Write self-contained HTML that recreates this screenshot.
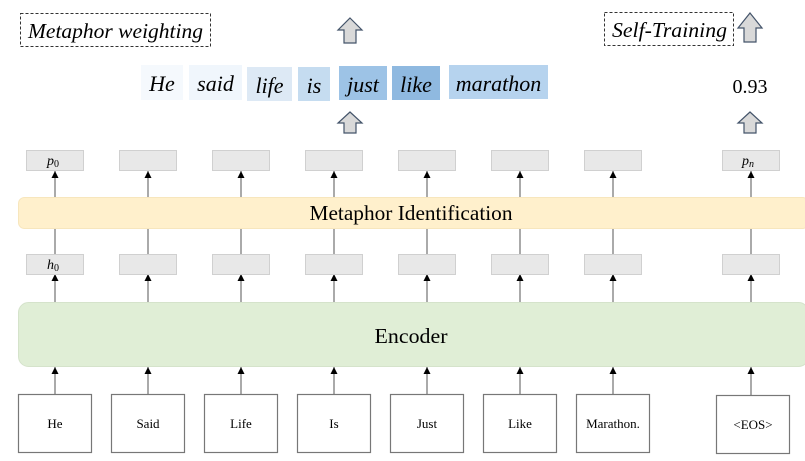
<!DOCTYPE html>
<html><head><meta charset="utf-8"><style>
html,body{margin:0;padding:0;background:#fff;}
svg{display:block;font-family:"Liberation Serif",serif;}
</style></head><body>
<svg width="805" height="461" viewBox="0 0 805 461" xmlns="http://www.w3.org/2000/svg">
<defs>
<marker id="ah" viewBox="0 0 10 10" refX="10" refY="5" markerUnits="userSpaceOnUse" markerWidth="8" markerHeight="7" orient="auto"><path d="M0,0 L10,5 L0,10 z" fill="#000"/></marker>
</defs>
<rect x="20.5" y="13.5" width="190" height="33" fill="none" stroke="#333" stroke-dasharray="3,2"/>
<text x="28" y="38" font-size="21" font-style="italic" textLength="175" lengthAdjust="spacingAndGlyphs">Metaphor weighting</text>
<rect x="604.5" y="12.5" width="129" height="33" fill="none" stroke="#333" stroke-dasharray="3,2"/>
<text x="612" y="37" font-size="21" font-style="italic" textLength="115" lengthAdjust="spacingAndGlyphs">Self-Training</text>
<g fill="#d9d9d9" stroke="#44546a" stroke-width="1.2">
<path d="M350,18 L362,30 L356,30 L356,43 L344,43 L344,30 L338,30 Z"/>
<path d="M750,13 L762,28 L756,28 L756,42 L744,42 L744,28 L738,28 Z"/>
<path d="M350,112 L362,123 L356,123 L356,133 L344,133 L344,123 L338,123 Z"/>
<path d="M750,112 L762,123 L756,123 L756,133 L744,133 L744,123 L738,123 Z"/>
</g>
<g font-size="22" font-style="italic" text-anchor="middle">
<rect x="141" y="65" width="42" height="35" fill="#f5f9fd"/><text x="162" y="91">He</text>
<rect x="189" y="65" width="53" height="35" fill="#f0f6fc"/><text x="215.5" y="91">said</text>
<rect x="247" y="67" width="45" height="34" fill="#dde9f5"/><text x="269.5" y="93">life</text>
<rect x="298" y="67" width="32" height="34" fill="#c5dcf0"/><text x="314" y="93">is</text>
<rect x="339" y="66" width="48" height="34" fill="#9dc3e6"/><text x="363" y="92">just</text>
<rect x="392" y="66" width="48" height="34" fill="#8fb9e0"/><text x="416" y="92">like</text>
<rect x="449" y="65" width="99" height="34" fill="#b6d3ee"/><text x="498.5" y="91">marathon</text>
</g>
<text x="750" y="93" font-size="20" text-anchor="middle">0.93</text>
<g stroke="#555" stroke-width="1" marker-end="url(#ah)">
<line x1="55" y1="254" x2="55" y2="171"/><line x1="148" y1="254" x2="148" y2="171"/>
<line x1="241" y1="254" x2="241" y2="171"/><line x1="334" y1="254" x2="334" y2="171"/>
<line x1="427" y1="254" x2="427" y2="171"/><line x1="520" y1="254" x2="520" y2="171"/>
<line x1="613" y1="254" x2="613" y2="171"/><line x1="751" y1="254" x2="751" y2="171"/>
<line x1="55" y1="302" x2="55" y2="274"/><line x1="148" y1="302" x2="148" y2="274"/>
<line x1="241" y1="302" x2="241" y2="274"/><line x1="334" y1="302" x2="334" y2="274"/>
<line x1="427" y1="302" x2="427" y2="274"/><line x1="520" y1="302" x2="520" y2="274"/>
<line x1="613" y1="302" x2="613" y2="274"/><line x1="751" y1="302" x2="751" y2="274"/>
<line x1="55" y1="394" x2="55" y2="367"/><line x1="148" y1="394" x2="148" y2="367"/>
<line x1="241" y1="394" x2="241" y2="367"/><line x1="334" y1="394" x2="334" y2="367"/>
<line x1="427" y1="394" x2="427" y2="367"/><line x1="520" y1="394" x2="520" y2="367"/>
<line x1="613" y1="394" x2="613" y2="367"/><line x1="751" y1="395" x2="751" y2="367"/>
</g>
<rect x="18.5" y="197.5" width="790" height="31" rx="6" fill="#fff0cc" stroke="#f7e6bd"/>
<text x="411" y="220" font-size="21" text-anchor="middle" textLength="203" lengthAdjust="spacingAndGlyphs">Metaphor Identification</text>
<rect x="18.5" y="302.5" width="790" height="64" rx="10" fill="#e0eed6" stroke="#d5e3cb"/>
<text x="411" y="343" font-size="21" text-anchor="middle" textLength="73" lengthAdjust="spacingAndGlyphs">Encoder</text>
<g fill="#e8e8e8" stroke="#d0d0d0">
<rect x="26.5" y="150.5" width="57" height="20"/><rect x="119.5" y="150.5" width="57" height="20"/>
<rect x="212.5" y="150.5" width="57" height="20"/><rect x="305.5" y="150.5" width="57" height="20"/>
<rect x="398.5" y="150.5" width="57" height="20"/><rect x="491.5" y="150.5" width="57" height="20"/>
<rect x="584.5" y="150.5" width="57" height="20"/><rect x="722.5" y="150.5" width="57" height="20"/>
<rect x="26.5" y="254.5" width="57" height="20"/><rect x="119.5" y="254.5" width="57" height="20"/>
<rect x="212.5" y="254.5" width="57" height="20"/><rect x="305.5" y="254.5" width="57" height="20"/>
<rect x="398.5" y="254.5" width="57" height="20"/><rect x="491.5" y="254.5" width="57" height="20"/>
<rect x="584.5" y="254.5" width="57" height="20"/><rect x="722.5" y="254.5" width="57" height="20"/>
</g>
<g font-size="14" font-style="italic">
<text x="47" y="165">p<tspan font-size="10" font-style="normal" dy="2">0</tspan></text>
<text x="742" y="165">p<tspan font-size="10" dy="2">n</tspan></text>
<text x="47" y="269">h<tspan font-size="10" font-style="normal" dy="2">0</tspan></text>
</g>
<g fill="#fff" stroke="#777" stroke-width="1.2">
<rect x="18.5" y="394.5" width="73" height="58"/><rect x="111.5" y="394.5" width="73" height="58"/>
<rect x="204.5" y="394.5" width="73" height="58"/><rect x="297.5" y="394.5" width="73" height="58"/>
<rect x="390.5" y="394.5" width="73" height="58"/><rect x="483.5" y="394.5" width="73" height="58"/>
<rect x="576.5" y="394.5" width="73" height="58"/><rect x="716.5" y="395.5" width="73" height="58"/>
</g>
<g font-size="13" text-anchor="middle">
<text x="55" y="428">He</text><text x="148" y="428">Said</text><text x="241" y="428">Life</text>
<text x="334" y="428">Is</text><text x="427" y="428">Just</text><text x="520" y="428">Like</text>
<text x="613" y="428">Marathon.</text><text x="753" y="429">&lt;EOS&gt;</text>
</g>
</svg>
</body></html>
